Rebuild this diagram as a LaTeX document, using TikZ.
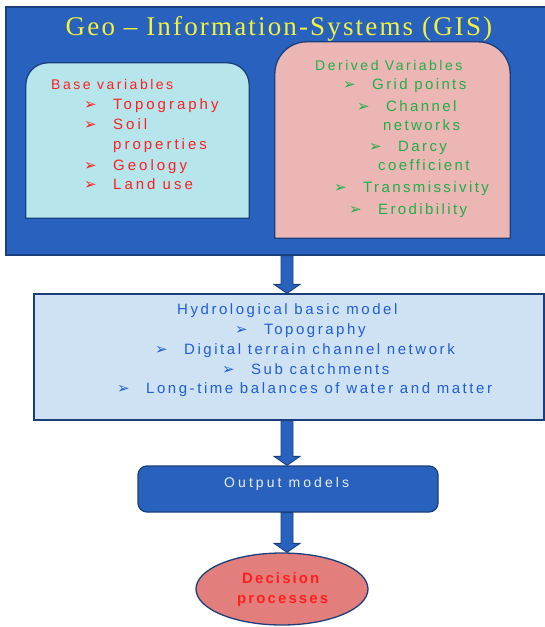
\documentclass[tikz,border=0pt]{standalone}
\usepackage{fontspec}
\setmainfont{Liberation Sans}
\newfontfamily\titlefont[LetterSpace=8]{Liberation Serif}
\newfontfamily\dv{DejaVu Sans}
\usetikzlibrary{calc,shapes.geometric}
\definecolor{blueA}{HTML}{2962BE}
\definecolor{darkB}{HTML}{1B3F7C}
\definecolor{cyanF}{HTML}{B6E5EC}
\definecolor{pinkF}{HTML}{EBB6B3}
\definecolor{hydroF}{HTML}{CFE2F4}
\definecolor{ellF}{HTML}{E27F7C}
\definecolor{redT}{HTML}{FF1F1F}
\definecolor{greenT}{HTML}{1FAF4A}
\definecolor{blueT}{HTML}{1E5ED6}
\definecolor{yellowT}{HTML}{F2F23C}
\definecolor{whiteT}{HTML}{E8EEF8}
\newcommand\bul{\makebox[29pt][l]{\dv\fontsize{15}{15}\selectfont ➢}}
\newcommand\ls[1]{\addfontfeatures{LetterSpace=#1}}
\newcommand\blockarrow[2]{%
  \draw[arrowbody] let \p1=(#1), \p2=(#2) in
    (\x1-6pt,\y1) -- (\x1-6pt,\y2+9pt) -- (\x1-13pt,\y2+9pt) -- (\x1,\y2)
    -- (\x1+13pt,\y2+9pt) -- (\x1+6pt,\y2+9pt) -- (\x1+6pt,\y1) -- cycle;}
\tikzset{
  box/.style={rectangle, inner sep=0pt, draw=darkB, line width=1.3pt},
  arrowbody/.style={fill=blueA, draw=darkB, line width=0.9pt, line join=miter},
  line/.style={anchor=base west, inner sep=0pt},
  redline/.style={line, text=redT, font=\fontsize{15}{18}\selectfont\ls{20}},
  greenline/.style={line, text=greenT, font=\fontsize{15}{18}\selectfont\ls{16}},
  blueline/.style={line, text=blueT, font=\fontsize{15}{18}\selectfont\ls{17}},
}
\begin{document}
\begin{tikzpicture}[x=1pt,y=-1pt]
\useasboundingbox (0,0) rectangle (545,627);
% GIS container
\node[box, fill=blueA, minimum width=542pt, minimum height=248pt] (gis) at (277,131) {};
\node[anchor=base, inner sep=0pt, text=yellowT, font=\titlefont\fontsize{27}{30}\selectfont] (title) at (279,35) {Geo – Information-Systems (GIS)};
% base variables box
\node[inner sep=0pt, minimum width=223pt, minimum height=155pt] (base) at (137.5,140.5) {};
\draw[fill=cyanF, draw=darkB, line width=1.3pt] (base.south west) -- ([yshift=-22pt]base.north west) arc[start angle=180, end angle=90, radius=22pt] -- ([xshift=-22pt]base.north east) arc[start angle=90, end angle=0, radius=22pt] -- (base.south east) -- cycle;
% derived variables box
\node[inner sep=0pt, minimum width=235pt, minimum height=196pt] (derived) at (392.5,140) {};
\draw[fill=pinkF, draw=darkB, line width=1.3pt] (derived.south west) -- ([yshift=-32pt]derived.north west) arc[start angle=180, end angle=90, radius=32pt] -- ([xshift=-32pt]derived.north east) arc[start angle=90, end angle=0, radius=32pt] -- (derived.south east) -- cycle;
% base texts
\node[line, text=redT, font=\fontsize{14}{17}\selectfont\ls{18}] (bh) at (51,89) {Base variables};
\node[redline] (b1) at (84,109) {\bul Topography};
\node[redline] (b2) at (84,129) {\bul Soil};
\node[redline] (b3) at (113,149) {properties};
\node[redline] (b4) at (84,170) {\bul Geology};
\node[redline] (b5) at (84,189) {\bul Land use};
% derived texts
\node[line, text=greenT, font=\fontsize{14}{17}\selectfont\ls{18}] (dh) at (315,70) {Derived Variables};
\node[greenline] (d1) at (343,89) {\bul Grid points};
\node[greenline] (d2) at (357,111) {\bul Channel};
\node[greenline] (d3) at (383,130) {networks};
\node[greenline] (d4) at (369,151) {\bul Darcy};
\node[greenline] (d5) at (378,170) {coefficient};
\node[greenline] (d6) at (334,192) {\bul Transmissivity};
\node[greenline] (d7) at (349,214) {\bul Erodibility};
% hydrological box
\node[box, fill=hydroF, minimum width=510pt, minimum height=126pt] (hydro) at (289,357) {};
\node[blueline] (h0) at (177,314) {Hydrological basic model};
\node[blueline] (h1) at (235,334) {\bul Topography};
\node[blueline] (h2) at (155,354) {\bul Digital terrain channel network};
\node[blueline] (h3) at (222,374) {\bul Sub catchments};
\node[blueline] (h4) at (117,393) {\bul Long-time balances of water and matter};
% output box
\node[box, fill=blueA, rounded corners=9pt, minimum width=300pt, minimum height=46pt] (output) at (288,489) {};
\node[line, text=whiteT, font=\fontsize{14}{17}\selectfont\ls{22}] (otext) at (224,487) {Output models};
% decision ellipse
\node[ellipse, draw=darkB, line width=1.3pt, fill=ellF, minimum width=172pt, minimum height=72pt, inner sep=0pt] (decision) at (282,589) {};
\node[line, text=redT, font=\bfseries\fontsize{15}{18}\selectfont\ls{14}] (dec1) at (242,583) {Decision};
\node[line, text=redT, font=\bfseries\fontsize{15}{18}\selectfont\ls{14}] (dec2) at (237,603) {processes};
% arrows
\coordinate (ax) at (287,0);
\blockarrow{gis.south -| ax}{hydro.north -| ax}
\blockarrow{hydro.south -| ax}{output.north -| ax}
\blockarrow{output.south -| ax}{decision.north -| ax}
\end{tikzpicture}
\end{document}
